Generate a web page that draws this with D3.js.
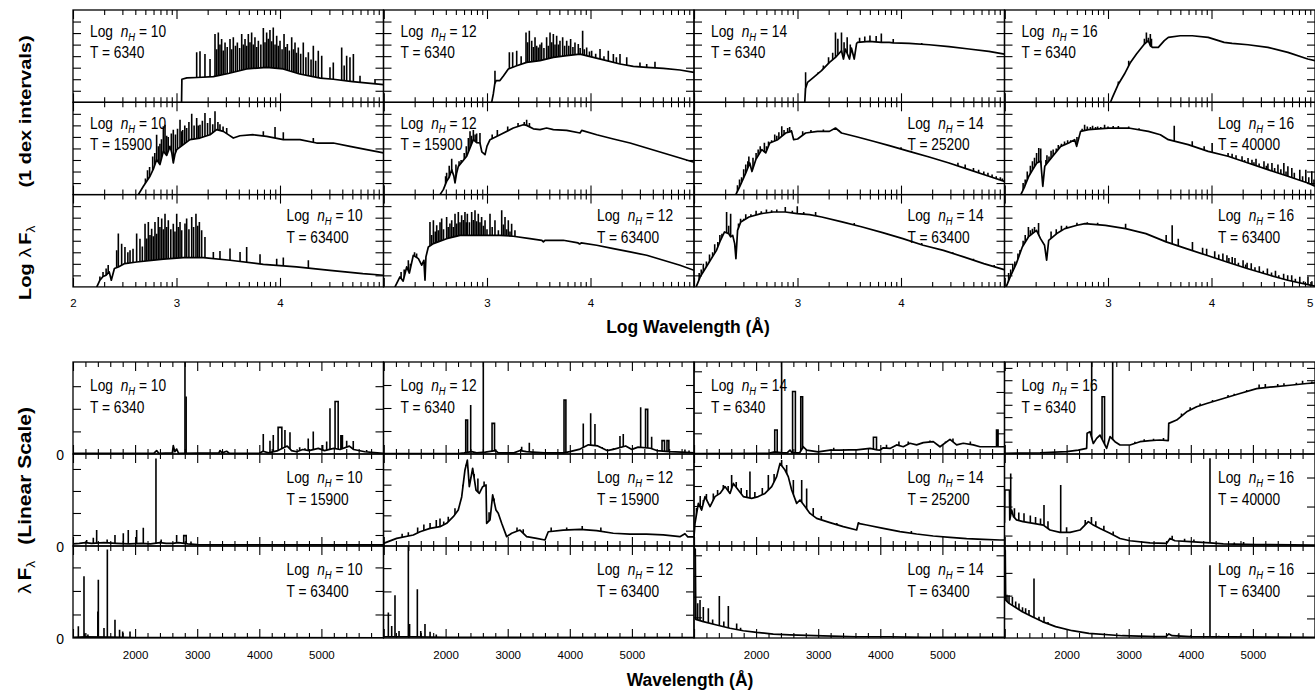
<!DOCTYPE html>
<html>
<head>
<meta charset="utf-8">
<script src="https://cdn.jsdelivr.net/npm/d3@7"></script>
<style>
  body { margin: 0; background: #fff; }
  svg { display: block; }
  text { font-family: "Liberation Sans", Arial, sans-serif; fill: #000; }
</style>
</head>
<body>
<svg id="chart" width="1315" height="694"></svg>
<script>
// ---------------------------------------------------------------
// Emergent spectra, log nH = 10..16, T = 6340 / 15900-40000 / 63400
// Upper block: log(lambda F_lambda) in dex vs log wavelength (A)
// Lower block: lambda F_lambda (linear, arbitrary units) vs wavelength (A)
// Each spectrum = continuum trace [x, y] + emission lines [x, peak, (width)]
// ---------------------------------------------------------------

const densities = [10, 12, 14, 16];
const temps = [
  [6340, 6340, 6340, 6340],
  [15900, 15900, 25200, 40000],
  [63400, 63400, 63400, 63400]
];
const logTickLabels = [[2, 3, 4], [3, 4], [3, 4], [3, 4, 5]];
const linTickLabels = [2000, 3000, 4000, 5000];

// ---------- log panels: [log lambda, dex above panel floor] ----------
const log_n10_t6340_cont = [[3.048,-0.5],[3.052,2.0],[3.10,2.12],[3.2,2.15],[3.356,2.22],[3.5,2.5],[3.678,2.89],[3.871,3.03],[4.03,2.89],[4.19,2.45],[4.39,2.1],[4.515,2.0],[4.7,1.8],[5.0,1.53]];
const log_n10_t6340_lines = [[3.195,4.33],[3.227,4.42],[3.275,4.18],[3.324,3.75],[3.372,5.92],[3.388,4.6],[3.404,6.06],[3.42,5.0],[3.436,5.48],[3.452,4.5],[3.469,5.19],[3.49,4.8],[3.517,5.48],[3.533,4.6],[3.549,5.63],[3.57,4.9],[3.588,5.19],[3.61,4.7],[3.630,5.92],[3.646,5.0],[3.662,5.48],[3.678,4.9],[3.694,5.92],[3.71,5.2],[3.726,6.06],[3.742,5.0],[3.758,5.63],[3.775,4.8],[3.791,5.34],[3.815,5.0],[3.839,6.44],[3.855,5.2],[3.871,6.06],[3.887,5.5],[3.903,6.26],[3.92,5.3],[3.935,6.49],[3.952,5.0],[3.968,5.77],[3.984,4.9],[4.0,5.34],[4.02,4.6],[4.039,5.92],[4.055,4.8],[4.071,5.05],[4.09,4.5],[4.113,5.63],[4.13,4.6],[4.145,5.19],[4.16,4.3],[4.177,4.76],[4.2,4.2],[4.225,5.19],[4.25,3.9],[4.274,4.33],[4.3,3.7],[4.322,4.91],[4.345,3.6],[4.370,4.47],[4.403,4.04],[4.483,3.03],[4.515,3.46],[4.596,4.76],[4.62,3.2],[4.644,4.04],[4.676,3.9],[4.709,4.18],[4.773,2.31],[4.918,2.02]];

const log_n12_t6340_cont = [[3.04,-0.5],[3.045,0],[3.061,0.72],[3.075,1.6],[3.087,1.88],[3.125,1.88],[3.16,2.3],[3.206,2.89],[3.287,3.17],[3.383,3.46],[3.512,3.61],[3.641,3.9],[3.77,4.04],[3.899,4.18],[4.027,3.9],[4.156,3.61],[4.285,3.32],[4.414,3.12],[4.543,3.03],[4.704,2.94],[4.865,2.8],[5.0,2.6]];
const log_n12_t6340_lines = [[3.077,2.74],[3.216,4.33],[3.248,4.33],[3.287,4.47],[3.33,4.0],[3.377,6.06],[3.393,5.2],[3.409,6.2],[3.432,5.34],[3.448,4.8],[3.464,5.63],[3.48,4.9],[3.496,4.76],[3.512,5.0],[3.528,5.19],[3.55,4.7],[3.576,5.63],[3.592,4.9],[3.609,6.06],[3.625,5.2],[3.641,5.92],[3.657,5.0],[3.673,5.77],[3.69,5.0],[3.705,5.34],[3.731,5.63],[3.75,4.9],[3.77,5.34],[3.79,4.9],[3.808,5.48],[3.83,4.8],[3.85,5.19],[3.882,5.05],[3.9,4.7],[3.924,6.2],[3.94,4.6],[3.963,4.76],[3.99,4.4],[4.011,4.47],[4.05,4.2],[4.092,4.62],[4.13,4.0],[4.172,4.47],[4.221,4.18],[4.25,3.9],[4.285,4.18],[4.35,3.9],[4.478,3.46],[4.543,3.32],[4.623,3.52]];

const log_n14_t6340_cont = [[3.065,-0.5],[3.07,0],[3.078,1.2],[3.097,1.73],[3.155,2.16],[3.232,2.74],[3.309,3.46],[3.367,3.9],[3.425,4.47],[3.444,3.75],[3.463,4.62],[3.502,3.75],[3.521,4.70],[3.548,3.75],[3.571,5.1],[3.579,5.19],[3.694,5.28],[3.81,5.2],[3.887,5.19],[3.925,5.15],[4.079,5.11],[4.272,4.99],[4.464,4.82],[4.657,4.62],[4.849,4.42],[5.0,4.18]];
const log_n14_t6340_lines = [[3.078,2.6],[3.2,2.6],[3.25,3.2],[3.30,3.9],[3.34,4.3],[3.367,6.06],[3.39,5.5],[3.425,6.06],[3.45,5.2],[3.48,5.63],[3.51,5.0],[3.60,5.6],[3.65,5.7],[3.70,5.8],[3.76,5.75],[3.81,5.97],[3.925,5.48],[4.2,5.15]];

const log_n16_t6340_cont = [[3.02,-0.5],[3.024,0],[3.043,0.43],[3.101,1.59],[3.159,2.45],[3.217,3.46],[3.275,4.18],[3.352,5.05],[3.39,5.34],[3.409,4.9],[3.429,4.76],[3.486,4.76],[3.544,5.34],[3.583,5.63],[3.698,5.77],[3.814,5.77],[3.968,5.63],[4.122,5.19],[4.199,5.11],[4.353,4.99],[4.545,4.76],[4.738,4.33],[4.93,3.75],[5.0,3.61]];
const log_n16_t6340_lines = [[3.1,1.8],[3.2,3.6],[3.352,5.5],[3.371,6.06],[3.39,5.6],[3.409,5.92],[3.42,5.5]];

const log_n10_t15900_cont = [[2.62,-0.5],[2.631,0],[2.68,0.72],[2.744,1.59],[2.776,2.2],[2.808,3.03],[2.84,2.6],[2.873,3.75],[2.905,3.4],[2.937,4.18],[2.955,3.6],[2.969,2.74],[2.985,3.5],[3.002,3.9],[3.066,4.33],[3.130,4.76],[3.227,4.9],[3.324,5.19],[3.388,5.63],[3.452,5.48],[3.5,5.2],[3.549,4.9],[3.613,5.1],[3.742,5.19],[3.871,5.05],[4.032,4.76],[4.193,4.76],[4.354,4.47],[4.515,4.47],[4.676,4.18],[4.837,3.9],[5.0,3.61]];
const log_n10_t15900_lines = [[2.70,1.4],[2.72,2.1],[2.74,2.4],[2.77,3.3],[2.79,3.6],[2.808,5.19],[2.825,4.2],[2.84,4.4],[2.855,4.8],[2.873,5.92],[2.889,6.06],[2.905,5.1],[2.92,5.0],[2.95,5.3],[2.969,5.63],[2.99,5.2],[3.01,5.7],[3.034,6.49],[3.05,5.5],[3.06,5.6],[3.08,6.0],[3.098,5.77],[3.12,6.3],[3.147,7.0],[3.17,6.0],[3.195,6.63],[3.21,6.0],[3.227,6.06],[3.25,6.4],[3.275,7.07],[3.30,6.2],[3.324,6.63],[3.35,6.1],[3.372,7.22],[3.40,6.3],[3.42,6.1],[3.45,5.9],[3.485,5.77],[3.839,5.48],[3.952,5.85],[4.032,5.4],[4.322,4.9]];

const log_n12_t15900_cont = [[2.54,-0.5],[2.546,0],[2.578,0.43],[2.61,1.15],[2.635,1.5],[2.659,2.16],[2.68,1.6],[2.691,1.01],[2.705,1.8],[2.723,2.45],[2.804,3.32],[2.868,4.76],[2.9,4.5],[2.932,4.47],[2.95,3.7],[2.981,3.46],[3.0,4.2],[3.029,4.76],[3.126,5.19],[3.254,5.77],[3.351,6.06],[3.383,6.0],[3.448,5.7],[3.512,5.63],[3.576,5.77],[3.641,5.63],[3.77,5.57],[3.899,5.34],[3.915,5.57],[4.06,5.19],[4.221,4.82],[4.382,4.47],[4.543,4.04],[4.704,3.61],[4.865,3.17],[5.0,2.8]];
const log_n12_t15900_lines = [[2.60,1.6],[2.61,1.9],[2.635,2.5],[2.659,3.1],[2.70,2.6],[2.73,2.9],[2.75,3.0],[2.78,3.6],[2.80,4.2],[2.82,4.9],[2.836,5.48],[2.85,5.1],[2.868,5.6],[2.885,5.2],[2.9,5.3],[2.932,5.34],[3.05,5.2],[3.10,5.6],[3.2,5.9],[3.3,6.2],[3.36,6.3],[3.383,6.49],[3.41,6.2]];

const log_n14_t25200_cont = [[2.40,-0.5],[2.404,0],[2.443,0.72],[2.501,1.88],[2.539,2.74],[2.56,2.0],[2.597,3.03],[2.655,3.9],[2.693,3.61],[2.732,4.47],[2.809,4.76],[2.886,5.34],[2.943,5.48],[2.963,4.76],[3.001,4.82],[3.078,5.34],[3.194,5.48],[3.309,5.48],[3.367,5.77],[3.425,5.34],[3.579,4.99],[3.733,4.62],[3.887,4.24],[4.079,3.75],[4.272,3.26],[4.464,2.74],[4.657,2.16],[4.849,1.59],[5.0,1.15]];
const log_n14_t25200_lines = [[2.42,0.8],[2.44,1.3],[2.46,1.5],[2.48,2.2],[2.50,2.6],[2.52,2.9],[2.53,3.3],[2.57,3.2],[2.60,3.6],[2.62,3.9],[2.64,4.2],[2.68,4.5],[2.70,4.2],[2.72,4.6],[2.75,4.7],[2.78,5.2],[2.80,5.1],[2.82,5.4],[2.848,5.92],[2.87,5.6],[2.905,5.77],[2.924,5.85],[2.94,5.6],[3.05,5.5],[3.13,5.6],[3.25,5.65],[3.40,5.6],[4.0,4.1],[4.1,3.8],[4.55,2.75],[4.62,2.6],[4.70,2.3],[4.75,2.15],[4.80,2.0],[4.84,1.9],[4.88,1.75],[4.92,1.6],[4.96,1.5],[4.98,1.4]];

const log_n16_t40000_cont = [[2.15,-0.5],[2.158,0],[2.196,0.72],[2.235,1.59],[2.273,2.16],[2.312,2.74],[2.35,2.9],[2.37,0.72],[2.389,2.45],[2.427,2.89],[2.466,3.32],[2.543,4.18],[2.62,4.47],[2.678,4.76],[2.697,4.18],[2.735,5.48],[2.812,5.63],[3.005,5.77],[3.198,5.77],[3.39,5.48],[3.506,5.19],[3.583,4.76],[3.775,4.33],[3.968,3.75],[4.16,3.32],[4.353,2.74],[4.545,2.16],[4.738,1.59],[4.93,1.01],[5.0,0.72]];
const log_n16_t40000_lines = [[2.18,1.0],[2.2,1.3],[2.22,2.0],[2.25,2.5],[2.27,2.9],[2.29,3.2],[2.31,3.6],[2.331,4.04],[2.35,4.0],[2.40,3.0],[2.41,3.4],[2.43,3.3],[2.45,3.8],[2.47,3.9],[2.50,4.0],[2.52,4.3],[2.55,4.4],[2.58,4.6],[2.61,4.7],[2.64,4.7],[2.70,5.0],[2.75,5.7],[2.774,6.06],[2.80,5.9],[2.83,5.85],[2.851,5.97],[2.88,5.85],[2.9,5.9],[2.93,5.85],[2.967,6.06],[3.0,5.9],[3.05,5.95],[3.1,5.95],[3.2,5.9],[3.3,5.75],[3.64,5.97],[3.814,4.62],[3.929,4.18],[4.006,4.47],[4.16,3.61],[4.199,3.55],[4.237,3.4],[4.295,3.32],[4.32,3.0],[4.353,3.17],[4.391,3.03],[4.41,2.8],[4.43,3.1],[4.46,2.7],[4.507,2.89],[4.53,2.5],[4.545,2.7],[4.584,2.74],[4.61,2.3],[4.642,2.6],[4.67,2.2],[4.699,2.74],[4.72,2.0],[4.738,2.45],[4.776,2.31],[4.80,1.9],[4.853,2.16],[4.88,1.6],[4.911,2.16],[4.94,1.5],[4.969,2.02],[4.99,1.3]];

const log_n10_t63400_cont = [[2.21,-0.5],[2.23,0],[2.26,0.58],[2.29,0.9],[2.32,1.01],[2.35,1.3],[2.37,0.58],[2.40,1.6],[2.438,1.73],[2.5,2.02],[2.615,2.16],[2.873,2.4],[3.066,2.54],[3.26,2.54],[3.517,2.31],[3.839,1.96],[4.16,1.73],[4.483,1.44],[4.80,1.15],[5.0,1.01]];
const log_n10_t63400_lines = [[2.26,0.9],[2.29,1.3],[2.32,1.6],[2.34,1.9],[2.422,3.17],[2.438,4.62],[2.47,3.75],[2.502,3.46],[2.53,3.0],[2.551,3.17],[2.58,3.3],[2.615,4.62],[2.647,4.18],[2.67,3.5],[2.696,5.48],[2.712,4.2],[2.728,5.63],[2.744,4.5],[2.76,5.05],[2.776,4.4],[2.792,5.63],[2.808,4.6],[2.824,6.06],[2.84,5.2],[2.857,5.92],[2.873,5.0],[2.889,6.35],[2.905,5.2],[2.921,5.77],[2.945,5.0],[2.969,5.48],[2.985,4.8],[3.002,6.35],[3.018,5.2],[3.034,5.63],[3.05,4.9],[3.082,5.5],[3.098,5.92],[3.12,5.0],[3.147,6.06],[3.165,5.2],[3.188,6.35],[3.205,5.3],[3.221,5.63],[3.243,4.9],[3.275,4.33],[3.356,3.03],[3.42,3.12],[3.517,3.32],[3.614,3.03],[3.678,3.46],[3.807,2.83],[3.968,2.45],[4.032,2.54],[4.274,2.31]];

const log_n12_t63400_cont = [[2.10,-0.5],[2.111,0],[2.159,0.87],[2.19,0.5],[2.224,1.73],[2.25,1.2],[2.288,2.74],[2.337,2.45],[2.369,1.88],[2.39,2.3],[2.401,0.58],[2.41,2.6],[2.433,3.46],[2.482,3.75],[2.61,4.18],[2.739,4.47],[2.932,4.47],[3.126,4.47],[3.254,4.39],[3.415,4.18],[3.53,4.04],[3.545,3.9],[3.56,4.04],[3.737,4.04],[3.88,3.81],[3.895,3.72],[3.91,3.81],[4.06,3.61],[4.221,3.32],[4.382,3.03],[4.543,2.74],[4.704,2.31],[4.865,1.88],[5.0,1.44]];
const log_n12_t63400_lines = [[2.17,1.3],[2.20,1.5],[2.24,2.3],[2.26,2.0],[2.30,3.0],[2.32,2.9],[2.449,5.63],[2.465,4.5],[2.482,5.77],[2.5,4.8],[2.514,5.34],[2.53,4.9],[2.546,5.6],[2.562,5.92],[2.58,5.0],[2.61,6.06],[2.625,5.2],[2.642,5.5],[2.659,5.77],[2.675,5.2],[2.691,6.35],[2.707,5.5],[2.723,6.49],[2.739,5.6],[2.755,6.2],[2.771,5.8],[2.787,6.49],[2.80,5.6],[2.81,6.35],[2.83,5.6],[2.852,6.49],[2.868,5.8],[2.884,6.64],[2.90,5.7],[2.916,6.35],[2.932,5.6],[2.948,6.06],[2.965,5.3],[2.981,5.77],[3.0,5.0],[3.029,6.35],[3.05,5.2],[3.077,5.77],[3.11,4.9],[3.142,6.64],[3.158,5.4],[3.174,6.06],[3.19,5.0],[3.206,5.77],[3.222,4.8],[3.238,5.48],[3.27,4.9]];

const log_n14_t63400_cont = [[2.015,-0.5],[2.021,0],[2.06,0.87],[2.099,1.44],[2.158,2.31],[2.217,3.17],[2.256,4.04],[2.295,4.76],[2.335,4.62],[2.354,4.33],[2.374,4.47],[2.393,3.75],[2.405,2.45],[2.421,4.9],[2.452,5.63],[2.531,6.06],[2.647,6.35],[2.765,6.49],[2.882,6.49],[2.998,6.35],[3.116,6.26],[3.234,6.06],[3.43,5.63],[3.626,5.19],[3.822,4.7],[4.018,4.18],[4.214,3.61],[4.41,3.17],[4.605,2.6],[4.8,2.02],[4.996,1.5]];
const log_n14_t63400_lines = [[2.05,1.2],[2.07,1.5],[2.09,2.0],[2.12,2.2],[2.15,2.8],[2.18,3.0],[2.20,3.7],[2.23,3.9],[2.25,4.5],[2.27,4.6],[2.315,6.49],[2.335,5.3],[2.354,6.35],[2.43,5.5],[2.45,5.9],[2.48,5.9],[2.50,6.3],[2.55,6.3],[2.6,6.6],[2.65,6.55],[2.7,6.7],[2.75,6.65],[2.8,6.7],[2.882,6.93],[2.95,6.6],[2.998,6.98],[3.06,6.5],[3.175,6.49],[3.548,5.54],[4.2,3.8],[4.5,3.0],[4.7,2.45],[4.9,1.9]];

const log_n16_t63400_cont = [[2.01,-0.5],[2.016,0],[2.055,0.87],[2.114,2.02],[2.172,3.46],[2.231,4.33],[2.309,4.9],[2.348,4.18],[2.387,3.61],[2.407,2.31],[2.427,4.04],[2.505,4.62],[2.583,5.05],[2.701,5.34],[2.779,5.48],[2.975,5.34],[3.17,5.05],[3.366,4.62],[3.562,3.9],[3.757,3.32],[3.953,2.74],[4.149,2.16],[4.344,1.59],[4.54,1.07],[4.736,0.58],[5.0,0.06]];
const log_n16_t63400_lines = [[2.04,1.2],[2.06,1.5],[2.08,2.0],[2.1,2.2],[2.13,2.9],[2.15,3.2],[2.18,4.0],[2.2,4.5],[2.231,5.19],[2.25,4.9],[2.27,5.05],[2.29,5.2],[2.329,5.54],[2.45,4.8],[2.5,5.0],[2.55,5.3],[2.6,5.3],[2.7,5.55],[2.8,5.6],[2.9,5.55],[3.17,5.48],[3.562,4.5],[3.62,5.34],[3.679,4.18],[3.816,3.9],[3.914,3.4],[3.953,3.3],[4.031,3.1],[4.07,2.8],[4.11,2.9],[4.149,2.75],[4.168,2.5],[4.2,2.6],[4.227,2.5],[4.26,2.1],[4.305,2.3],[4.33,1.95],[4.344,2.1],[4.384,2.05],[4.42,1.7],[4.462,1.8],[4.5,1.4],[4.54,1.6],[4.58,1.25],[4.618,1.4],[4.65,1.0],[4.697,1.15],[4.736,1.0],[4.775,1.01],[4.81,0.7],[4.853,0.87],[4.89,0.5],[4.932,0.9],[4.97,0.5]];

// ---------- linear panels: [wavelength A, flux (panel units)], lines [A, peak, box width A] ----------
const lin_n10_t6340_cont = [[1000,0.03],[2300,0.03],[2347,0.15],[2380,0.03],[2600,0.05],[2615,0.37],[2640,0.1],[2669,0.22],[2700,0.03],[3350,0.05],[3367,0.15],[3400,0.05],[3474,0.12],[3520,0.03],[4000,0.03],[4060,0.12],[4150,0.05],[4300,0.15],[4450,0.35],[4520,0.15],[4600,0.1],[4700,0.2],[4800,0.15],[4950,0.25],[5050,0.15],[5200,0.25],[5300,0.2],[5450,0.35],[5520,0.2],[5700,0.1],[5900,0.05],[6000,0.03]];
const lin_n10_t6340_lines = [[2803,4.1],[2822,2.54],[4064,0.88],[4172,0.59],[4225,0.84],[4333,1.18,60],[4413,1.06],[4494,0.96],[4650,0.3],[4735,0.25],[4788,0.69],[4869,0.99],[5020,0.4],[5085,0.55],[5138,2.02],[5245,2.32,50],[5326,0.8,25],[5407,0.59],[5513,0.57],[5728,0.18]];

const lin_n12_t6340_cont = [[1000,0.02],[2200,0.02],[2300,0.05],[2420,0.1],[2500,0.05],[2640,0.08],[2800,0.15],[2850,0.05],[3100,0.05],[3200,0.15],[3300,0.1],[3400,0.08],[3600,0.05],[3900,0.05],[4000,0.1],[4150,0.2],[4300,0.4],[4450,0.35],[4600,0.15],[4700,0.2],[4900,0.35],[5000,0.2],[5100,0.3],[5300,0.25],[5400,0.15],[5600,0.1],[5800,0.08],[6000,0.05]];
const lin_n12_t6340_lines = [[2339,1.48,30],[2404,2.13],[2607,4.1],[2768,1.33,40],[3225,0.32],[3348,0.49],[3922,2.35,30],[4217,1.33],[4336,1.77],[4405,1.3],[4520,0.3],[4700,0.25],[4808,0.78],[4861,0.87],[5141,2.03],[5237,1.94,35],[5318,0.75],[5505,0.58,40],[5580,0.58,30],[5854,0.2],[5920,0.15]];

const lin_n14_t6340_cont = [[1000,0.02],[2200,0.03],[2300,0.1],[2420,0.05],[2500,0.05],[2546,0.19],[2580,0.05],[2700,0.05],[2760,0.35],[2814,0.19],[3000,0.1],[3190,0.19],[3351,0.19],[3500,0.2],[3619,0.2],[3834,0.27],[3950,0.2],[3995,0.19],[4048,0.3],[4156,0.27],[4263,0.44],[4370,0.35],[4478,0.52],[4585,0.44],[4692,0.55],[4853,0.6],[4961,0.35],[5122,0.71],[5229,0.44],[5336,0.52],[5497,0.44],[5605,0.35],[5766,0.35],[5927,0.35],[6000,0.35]];
const lin_n14_t6340_lines = [[2320,1.16,40],[2411,4.5],[2610,3.02,45],[2734,2.77,30],[3250,0.3],[3914,0.81,50],[4100,0.45],[4300,0.6],[4450,0.6],[4800,0.65],[5050,0.6],[5170,0.75],[5450,0.6],[5884,1.16,25]];

const lin_n16_t6340_cont = [[1000,0.05],[1572,0.1],[2001,0.19],[2188,0.32],[2323,0.46],[2330,1.68],[2377,1.81],[2430,0.86],[2484,1.27],[2538,1.54],[2645,0.46],[2699,1.41],[2779,1.0],[2860,0.73],[3021,0.73],[3182,1.0],[3343,1.08],[3504,1.14],[3637,1.08],[3645,2.49],[3772,2.76],[3933,3.43],[4094,3.84],[4255,4.11],[4523,4.51],[4791,4.92],[5060,5.32],[5328,5.46],[5597,5.59],[5865,5.73],[6000,5.78]];
const lin_n16_t6340_lines = [[2404,7.6],[2591,4.65,40],[2742,7.6],[3100,1.0],[3250,1.2],[3400,1.25],[3560,1.3],[3850,3.3],[3990,3.8],[4150,4.1],[4350,4.4],[4450,4.4],[4600,4.8],[4700,4.9],[4900,5.2],[5100,5.65],[5200,5.7],[5400,5.7],[5500,5.75],[5700,5.8],[5800,5.95],[5950,5.9]];

const lin_n10_t15900_cont = [[1000,0.1],[1100,0.12],[1200,0.15],[1300,0.12],[1500,0.15],[1700,0.12],[1900,0.1],[2100,0.12],[2250,0.1],[2400,0.15],[2500,0.12],[2600,0.12],[2700,0.15],[2850,0.1],[3000,0.06],[6000,0.05]];
const lin_n10_t15900_lines = [[1220,0.27],[1327,0.38],[1381,0.73],[1550,0.3],[1676,0.5],[1810,0.58],[1890,0.73],[2025,0.73],[2132,0.83],[2336,3.98],[2420,0.3],[2669,0.5],[2803,0.47,40],[2900,0.2]];

const lin_n12_t15900_cont = [[1000,0.17],[1212,0.5],[1480,0.72],[1588,0.93],[1749,1.15],[1910,1.26],[2017,1.48],[2124,1.91],[2204,2.35],[2259,3.2],[2312,4.96],[2350,5.6],[2382,3.87],[2436,5.07],[2490,3.65],[2543,3.43],[2597,3.87],[2651,3.98],[2661,1.48],[2715,1.7],[2758,3.33],[2811,2.35],[2848,2.13],[2903,1.48],[2983,0.61],[3064,0.83],[3198,1.04],[3305,0.61],[3466,0.5],[3600,0.39],[3653,0.93],[3894,1.04],[4163,1.09],[4432,1.0],[4700,0.83],[4968,0.78],[5235,0.78],[5505,0.72],[5773,0.61],[5854,0.8],[5900,0.6],[6000,0.6]];
const lin_n12_t15900_lines = [[1300,0.8],[1400,0.9],[1550,1.2],[1650,1.4],[1750,1.5],[1850,1.7],[1910,1.8],[1970,1.6],[2043,1.91],[2151,2.46],[2280,4.0],[2330,5.3],[2410,4.5],[2460,4.7],[2520,4.4],[2620,4.2],[2700,2.2],[2780,3.1],[2880,1.7],[3150,1.2],[3250,1.1],[3700,1.2],[3950,1.2],[4200,1.3],[4500,1.2]];

const lin_n14_t25200_cont = [[1000,0.47],[1016,1.13],[1070,2.13],[1123,1.8],[1177,2.47],[1258,1.97],[1338,2.47],[1419,2.63],[1499,2.97],[1580,2.63],[1633,3.13],[1713,2.8],[1794,2.47],[1928,2.38],[2035,2.47],[2143,2.63],[2251,2.97],[2331,3.47],[2385,4.13],[2465,3.8],[2518,3.47],[2573,2.8],[2653,2.13],[2707,2.3],[2787,1.97],[2868,1.63],[2975,1.38],[3190,1.17],[3404,0.97],[3619,0.8],[3645,1.13],[3780,1.05],[4048,0.88],[4317,0.72],[4585,0.6],[4853,0.5],[5122,0.43],[5390,0.37],[5658,0.33],[5927,0.3],[6000,0.3]];
const lin_n14_t25200_lines = [[1040,1.9],[1100,2.5],[1150,2.3],[1200,2.6],[1311,2.63],[1380,2.8],[1472,3.05],[1550,3.0],[1606,3.55],[1680,3.2],[1760,2.9],[1850,2.8],[1901,3.72],[1980,2.7],[2100,2.9],[2197,3.55],[2290,3.6],[2411,4.3],[2492,4.05],[2600,3.3],[2734,3.3],[2814,2.88],[2920,1.9],[3050,1.5],[3300,1.15],[3650,1.2],[4500,0.75]];

const lin_n16_t40000_cont = [[1000,0.8],[1005,1.93],[1080,1.93],[1085,0.9],[1115,1.24],[1145,1.01],[1193,0.9],[1298,0.84],[1464,0.78],[1625,0.72],[1733,0.55],[1894,0.47],[2055,0.47],[2216,0.55],[2350,0.84],[2430,0.72],[2538,0.6],[2699,0.44],[2860,0.26],[3021,0.18],[3343,0.11],[3612,0.09],[3665,0.26],[3745,0.18],[3987,0.15],[4309,0.11],[4523,0.07],[5060,0.05],[6000,0.03]];
const lin_n16_t40000_lines = [[1100,2.5],[1160,1.3],[1230,1.15],[1314,1.13],[1416,1.05],[1500,1.0],[1580,0.95],[1636,1.41],[1700,0.85],[1905,2.1],[2000,0.65],[2300,0.9],[2400,1.0],[2470,0.85],[2600,0.7],[2750,0.5],[3700,0.35],[3900,0.25],[4050,0.22],[4309,3.02],[4700,0.12],[4850,0.14]];

const lin_n10_t63400_cont = [[1000,0.03],[1200,0.05],[1600,0.04],[2000,0.02],[6000,0.01]];
const lin_n10_t63400_lines = [[1086,0.5],[1177,2.62],[1190,0.2],[1240,0.15],[1400,1.13],[1408,2.48],[1499,0.43],[1553,3.76],[1676,0.78],[1750,0.35],[1800,0.28],[1918,0.28]];

const lin_n12_t63400_cont = [[1000,0.05],[1500,0.05],[2000,0.03],[6000,0.02]];
const lin_n12_t63400_lines = [[1078,1.09],[1132,0.51],[1185,1.84],[1250,0.3],[1400,4.1],[1420,0.6],[1545,2.09],[1600,0.3],[1668,0.6],[1750,0.27],[1850,0.15]];

const lin_n14_t63400_cont = [[1000,4.3],[1020,4.3],[1030,0.9],[1150,0.79],[1365,0.63],[1580,0.47],[1794,0.35],[2009,0.27],[2277,0.19],[2546,0.15],[3082,0.1],[3619,0.06],[4156,0.06],[4692,0.03],[6000,0.03]];
const lin_n14_t63400_lines = [[1059,1.68],[1097,1.84],[1150,1.5],[1231,1.44],[1300,0.9],[1408,2.03],[1480,0.8],[1553,1.55],[1687,0.7],[1750,0.5]];

const lin_n16_t63400_cont = [[1000,3.85],[1012,3.85],[1019,1.66],[1073,1.52],[1180,1.34],[1287,1.15],[1448,0.93],[1609,0.72],[1823,0.5],[2091,0.32],[2359,0.2],[2896,0.1],[3433,0.06],[3600,0.06],[3647,0.18],[3700,0.1],[3987,0.06],[6000,0.03]];
const lin_n16_t63400_lines = [[1040,1.9],[1073,1.88],[1127,1.8],[1180,1.6],[1233,1.52],[1290,1.35],[1340,1.31],[1394,1.23],[1475,2.61],[1555,0.93],[1636,0.93],[1700,0.7],[3800,0.15],[4000,0.12],[4309,3.2],[4450,0.1],[4800,0.1]];

// linear-panel vertical extent and tick values (panel units)
const linYMax = [[4.07, 4.0, 4.45, 7.48], [4.18, 6.0, 4.6, 3.17], [3.91, 3.95, 4.45, 4.04]];
const linYTicks = [
  [[1,2,3], [1,2,3], [1,2,3,4], [1,2,3,4,5,6,7]],
  [[0.5,1.5,2.5,3.5], [1,2,3,4,5], [1,2,3,4], [0.36,1.36,2.36]],
  [[1,2,3], [1,2,3], [1,2,3,4], [0.86,1.86,2.86]]
];

// label placement: 0 = upper left, 1 = upper right
const logLabelSide = [[0,0,0,0],[0,0,1,1],[1,1,1,1]];
const linLabelSide = [[0,0,0,0],[1,1,1,1],[1,1,1,1]];

// ---------- tables assembled from the arrays above ----------
const logSpectra = [
  [[log_n10_t6340_cont, log_n10_t6340_lines], [log_n12_t6340_cont, log_n12_t6340_lines], [log_n14_t6340_cont, log_n14_t6340_lines], [log_n16_t6340_cont, log_n16_t6340_lines]],
  [[log_n10_t15900_cont, log_n10_t15900_lines], [log_n12_t15900_cont, log_n12_t15900_lines], [log_n14_t25200_cont, log_n14_t25200_lines], [log_n16_t40000_cont, log_n16_t40000_lines]],
  [[log_n10_t63400_cont, log_n10_t63400_lines], [log_n12_t63400_cont, log_n12_t63400_lines], [log_n14_t63400_cont, log_n14_t63400_lines], [log_n16_t63400_cont, log_n16_t63400_lines]]
];
const linSpectra = [
  [[lin_n10_t6340_cont, lin_n10_t6340_lines], [lin_n12_t6340_cont, lin_n12_t6340_lines], [lin_n14_t6340_cont, lin_n14_t6340_lines], [lin_n16_t6340_cont, lin_n16_t6340_lines]],
  [[lin_n10_t15900_cont, lin_n10_t15900_lines], [lin_n12_t15900_cont, lin_n12_t15900_lines], [lin_n14_t25200_cont, lin_n14_t25200_lines], [lin_n16_t40000_cont, lin_n16_t40000_lines]],
  [[lin_n10_t63400_cont, lin_n10_t63400_lines], [lin_n12_t63400_cont, lin_n12_t63400_lines], [lin_n14_t63400_cont, lin_n14_t63400_lines], [lin_n16_t63400_cont, lin_n16_t63400_lines]]
];

// ---------- layout ----------
const svg = d3.select("#chart");
const defs = svg.append("defs");
const colLeft = [73, 383.5, 694, 1004.5];
const panelW = 310.5;
const logBlock = { top: 10, rowH: 92.3 };
const linBlock = { top: 362, rowH: 92 };
const FS = 0.86;            // horizontal squeeze of lettering
let clipCount = 0;

function drawSpectrum(g, x, y, cont, lines) {
  const [xl, xr] = x.range();
  const [yb, yt] = y.range();
  const rectId = "pc" + (clipCount++);
  defs.append("clipPath").attr("id", rectId)
    .append("rect").attr("x", xl).attr("y", yt).attr("width", xr - xl).attr("height", yb - yt);
  const aboveId = "ac" + (clipCount++);
  defs.append("clipPath").attr("id", aboveId)
    .append("path")
    .attr("d", d3.area().x(d => x(d[0])).y0(yt - 20).y1(d => y(d[1]))(cont));

  const inner = g.append("g").attr("clip-path", `url(#${rectId})`);
  inner.append("g").attr("clip-path", `url(#${aboveId})`)
    .selectAll("path").data(lines).join("path")
    .attr("fill", "none").attr("stroke", "#000").attr("stroke-width", 1.6)
    .attr("d", d => {
      if (d[2]) {
        const a = x(d[0] - d[2] / 2), b = x(d[0] + d[2] / 2);
        return `M${a},${yb + 3}V${y(d[1])}H${b}V${yb + 3}`;
      }
      return `M${x(d[0])},${yb + 3}V${y(d[1])}`;
    });
  inner.append("path").datum(cont)
    .attr("fill", "none").attr("stroke", "#000").attr("stroke-width", 1.7)
    .attr("stroke-linejoin", "round")
    .attr("d", d3.line().x(d => x(d[0])).y(d => y(d[1])));
}

function drawFrame(g, x, y, xMajor, xMinor, yTicks) {
  const [xl, xr] = x.range();
  const [yb, yt] = y.range();
  const strip = s => s.call(a => a.select(".domain").remove())
                      .call(a => a.selectAll("line").attr("stroke", "#000").attr("stroke-width", 1.1));
  g.append("g").attr("transform", `translate(0,${yb})`)
    .call(d3.axisBottom(x).tickValues(xMajor).tickSize(-9).tickFormat("")).call(strip);
  g.append("g").attr("transform", `translate(0,${yb})`)
    .call(d3.axisBottom(x).tickValues(xMinor).tickSize(-5).tickFormat("")).call(strip);
  g.append("g").attr("transform", `translate(0,${yt})`)
    .call(d3.axisTop(x).tickValues(xMajor).tickSize(-9).tickFormat("")).call(strip);
  g.append("g").attr("transform", `translate(0,${yt})`)
    .call(d3.axisTop(x).tickValues(xMinor).tickSize(-5).tickFormat("")).call(strip);
  g.append("g").attr("transform", `translate(${xl},0)`)
    .call(d3.axisLeft(y).tickValues(yTicks).tickSize(-8).tickFormat("")).call(strip);
  g.append("g").attr("transform", `translate(${xr},0)`)
    .call(d3.axisRight(y).tickValues(yTicks).tickSize(-8).tickFormat("")).call(strip);
  g.append("rect").attr("x", xl).attr("y", yt).attr("width", xr - xl).attr("height", yb - yt)
    .attr("fill", "none").attr("stroke", "#000").attr("stroke-width", 1.3);
}

function drawLabel(g, x0, yTop, n, T, right, lineGap, firstBase) {
  const lx = right ? x0 + panelW - 97 : x0 + 17;
  const t1 = g.append("text")
    .attr("transform", `translate(${lx},${yTop + firstBase}) scale(${FS},1)`)
    .style("font-size", "16px");
  t1.append("tspan").text("Log");
  t1.append("tspan").attr("dx", 9).style("font-style", "italic").text("n");
  t1.append("tspan").attr("dy", 4).style("font-style", "italic").style("font-size", "11px").text("H");
  t1.append("tspan").attr("dy", -4).text(" = " + n);
  g.append("text")
    .attr("transform", `translate(${lx},${yTop + firstBase + lineGap}) scale(${FS},1)`)
    .style("font-size", "16px").text("T = " + T);
}

// log-axis tick positions from a log scale over 100 A .. 100000 A
const wlLog = d3.scaleLog().domain([100, 100000]);
const logMinor = wlLog.ticks().map(v => Math.log10(v)).filter(v => Math.abs(v - Math.round(v)) > 1e-6);
const logMajor = [2, 3, 4, 5];
const linMajor = d3.range(1000, 6001, 1000);
const linMinor = d3.range(1200, 6000, 200).filter(v => v % 1000 !== 0);

// ---------- upper block ----------
for (let r = 0; r < 3; r++) {
  for (let c = 0; c < 4; c++) {
    const yt = logBlock.top + r * logBlock.rowH, yb = yt + logBlock.rowH;
    const x = d3.scaleLinear().domain([2, 5]).range([colLeft[c], colLeft[c] + panelW]);
    const y = d3.scaleLinear().domain([0, 8]).range([yb, yt]);
    const g = svg.append("g");
    const [cont, lines] = logSpectra[r][c];
    drawSpectrum(g, x, y, cont, lines);
    drawFrame(g, x, y, logMajor, logMinor, d3.range(1, 8));
    drawLabel(g, colLeft[c], yt, densities[c], temps[r][c], logLabelSide[r][c], 21.5, 26.5);
    if (r === 2) {
      g.append("g").attr("transform", `translate(0,${yb})`)
        .call(d3.axisBottom(x).tickValues(logTickLabels[c]).tickSize(0).tickPadding(12).tickFormat(d3.format("d")))
        .call(a => a.select(".domain").remove())
        .call(a => a.selectAll("text").attr("font-family", null).style("font-size", "11.5px")
          .attr("text-anchor", d => (d === 5 ? "end" : "middle"))
          .attr("dx", d => (d === 5 ? -2 : 0)));
    }
  }
}

// ---------- lower block ----------
for (let r = 0; r < 3; r++) {
  for (let c = 0; c < 4; c++) {
    const yt = linBlock.top + r * linBlock.rowH, yb = yt + linBlock.rowH;
    const x = d3.scaleLinear().domain([1000, 6000]).range([colLeft[c], colLeft[c] + panelW]);
    const y = d3.scaleLinear().domain([0, linYMax[r][c]]).range([yb, yt]);
    const g = svg.append("g");
    const [cont, lines] = linSpectra[r][c];
    drawSpectrum(g, x, y, cont, lines);
    drawFrame(g, x, y, linMajor, linMinor, linYTicks[r][c]);
    drawLabel(g, colLeft[c], yt, densities[c], temps[r][c], linLabelSide[r][c], 22.5, 28.5);
    if (c === 0) {
      g.append("text").attr("x", 64).attr("y", yb + 6).attr("text-anchor", "end")
        .style("font-size", "14px").text("0");
    }
    if (r === 2) {
      g.append("g").attr("transform", `translate(0,${yb})`)
        .call(d3.axisBottom(x).tickValues(linTickLabels).tickSize(0).tickPadding(13).tickFormat(d3.format("d")))
        .call(a => a.select(".domain").remove())
        .call(a => a.selectAll("text").attr("font-family", null).style("font-size", "11.5px"));
    }
  }
}

// ---------- axis titles ----------
svg.append("text").attr("x", 688).attr("y", 333).attr("text-anchor", "middle")
  .style("font-size", "17.5px").style("font-weight", "bold").text("Log Wavelength (Å)");
svg.append("text").attr("x", 690).attr("y", 686).attr("text-anchor", "middle")
  .style("font-size", "17.5px").style("font-weight", "bold").text("Wavelength (Å)");

const yTitleTop = svg.append("text")
  .attr("transform", `translate(31,300) rotate(-90) scale(1,${FS})`)
  .style("font-size", "20px");
yTitleTop.append("tspan").style("font-weight", "bold").text("Log ");
yTitleTop.append("tspan").text("λ");
yTitleTop.append("tspan").attr("dx", 3).style("font-weight", "bold").text("F");
yTitleTop.append("tspan").attr("dy", 5).style("font-size", "14px").text("λ");
yTitleTop.append("tspan").attr("dy", -5).attr("dx", 38).style("font-weight", "bold").text("(1 dex intervals)");

const yTitleBot = svg.append("text")
  .attr("transform", `translate(31,594) rotate(-90) scale(1,${FS})`)
  .style("font-size", "21px");
yTitleBot.append("tspan").text("λ");
yTitleBot.append("tspan").attr("dx", 3).style("font-weight", "bold").text("F");
yTitleBot.append("tspan").attr("dy", 5).style("font-size", "14px").text("λ");
yTitleBot.append("tspan").attr("dy", -5).attr("dx", 16).style("font-weight", "bold").text("(Linear Scale)");
</script>
</body>
</html>
